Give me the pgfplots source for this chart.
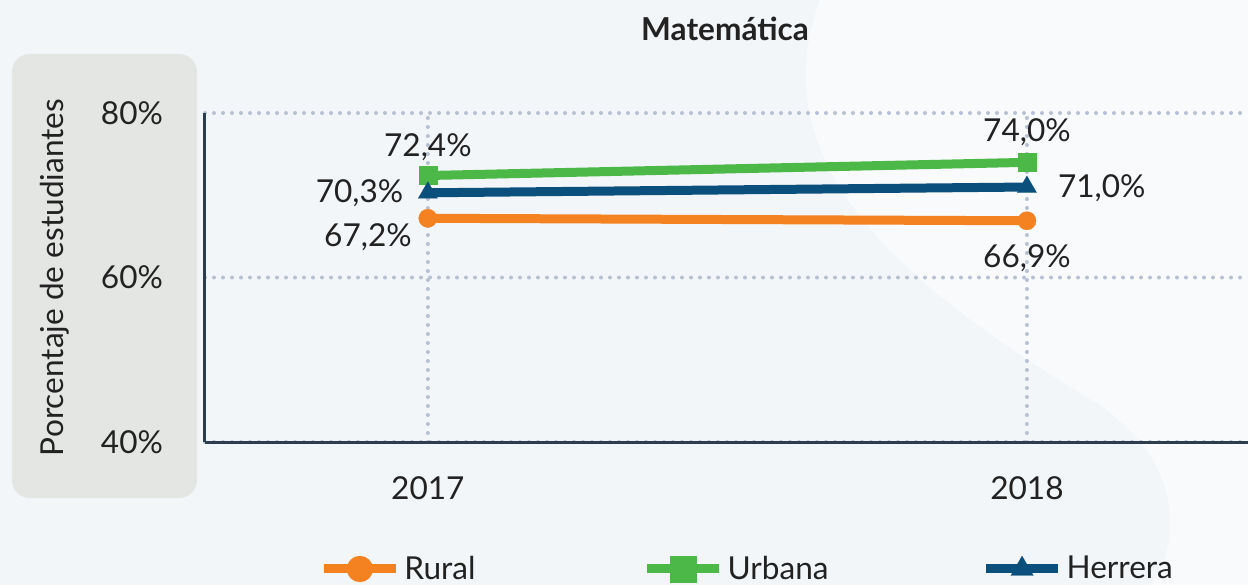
\documentclass[border=0pt]{standalone}
\usepackage{fontspec}
\setmainfont{Lato}
\usepackage{pgfplots}
\pgfplotsset{compat=1.18}

\definecolor{bgcol}{HTML}{F3F6F9}
\definecolor{boxcol}{HTML}{E4E6E4}
\definecolor{axcol}{HTML}{2D3E50}
\definecolor{gridcol}{HTML}{B7C1D3}
\definecolor{rural}{HTML}{F58220}
\definecolor{urbana}{HTML}{4CB848}
\definecolor{herrera}{HTML}{0B4F7C}
\definecolor{txt}{HTML}{222222}

\newcommand{\lbl}{\fontsize{15.8}{18}\selectfont}

\begin{document}
\begin{tikzpicture}[x=0.5pt,y=0.5pt]
% background and label panel
\fill[bgcol] (0,0) rectangle (1248,585);
\fill[white,opacity=0.55] (820,585) .. controls (760,420) and (900,300) .. (1100,180)
  .. controls (1200,110) and (1170,20) .. (1150,0) -- (1248,0) -- (1248,585) -- cycle;
\fill[boxcol, rounded corners=9pt] (12,87) rectangle (197,531);

\begin{axis}[
  at={(102.5pt,71.5pt)}, anchor=south west,
  scale only axis, width=521.5pt, height=164.5pt,
  xmin=2016.628, xmax=2018.369,
  ymin=40, ymax=80,
  axis x line=bottom, axis y line=left,
  axis line style={axcol, line width=1.5pt, -},
  xtick={2017,2018}, xticklabels={2017,\raisebox{3pt}{2018}},
  ytick={40,60,80}, yticklabels={40\%,60\%,80\%},
  major tick length=0pt,
  tick label style={font=\lbl, text=txt},
  xticklabel style={yshift=-14pt},
  yticklabel style={xshift=-17.5pt},
  xmajorgrids, ymajorgrids,
  major grid style={gridcol, line width=2pt, line cap=round, dash pattern=on 0pt off 4.5pt},
  ylabel={Porcentaje de estudiantes},
  ylabel style={at={(axis description cs:-0.1438,0.5)}, anchor=center, font=\lbl, text=txt},
  title={\textbf{Matemática}},
  title style={at={(axis description cs:0.4986,1.22)}, anchor=center, font=\lbl, text=txt},
  clip=false,
  every axis plot/.append style={line width=4.5pt},
  legend columns=3,
  legend style={at={(axis description cs:0.1093,-0.386)}, anchor=west,
    draw=none, fill=none, inner sep=0pt, font=\lbl, text=txt,
    /tikz/column 2/.style={column sep=81.5pt},
    /tikz/column 4/.style={column sep=74.5pt}},
  legend image code/.code={
    \draw[mark repeat=2, mark phase=2, mark size=6.5pt, mark options={line width=0.1pt}]
      plot coordinates {(0pt,0pt) (18pt,0pt) (36pt,0pt)};},
]
\addplot[rural, mark=*, mark size=4.6pt, mark options={line width=0.1pt}] coordinates {(2017,67.2) (2018,66.9)};
\addlegendentry{Rural}
\addplot[urbana, mark=square*, mark size=4.5pt, mark options={line width=0.1pt}] coordinates {(2017,72.4) (2018,74.0)};
\addlegendentry{Urbana}
\addplot[herrera, mark=triangle*, mark size=5.6pt, mark options={line width=0.1pt}] coordinates {(2017,70.3) (2018,71.0)};
\addlegendentry{Herrera}

\node[font=\lbl, text=txt] at (axis cs:2016.9,64.95) {67,2\%};
\node[font=\lbl, text=txt] at (axis cs:2017.0,75.85) {72,4\%};
\node[font=\lbl, text=txt] at (axis cs:2016.886,70.27) {70,3\%};
\node[font=\lbl, text=txt] at (axis cs:2018,77.7) {74,0\%};
\node[font=\lbl, text=txt] at (axis cs:2018.125,70.9) {71,0\%};
\node[font=\lbl, text=txt] at (axis cs:2018,62.4) {66,9\%};
\end{axis}

\pgfresetboundingbox
\useasboundingbox (0,0) rectangle (1248,585);
\end{tikzpicture}
\end{document}
